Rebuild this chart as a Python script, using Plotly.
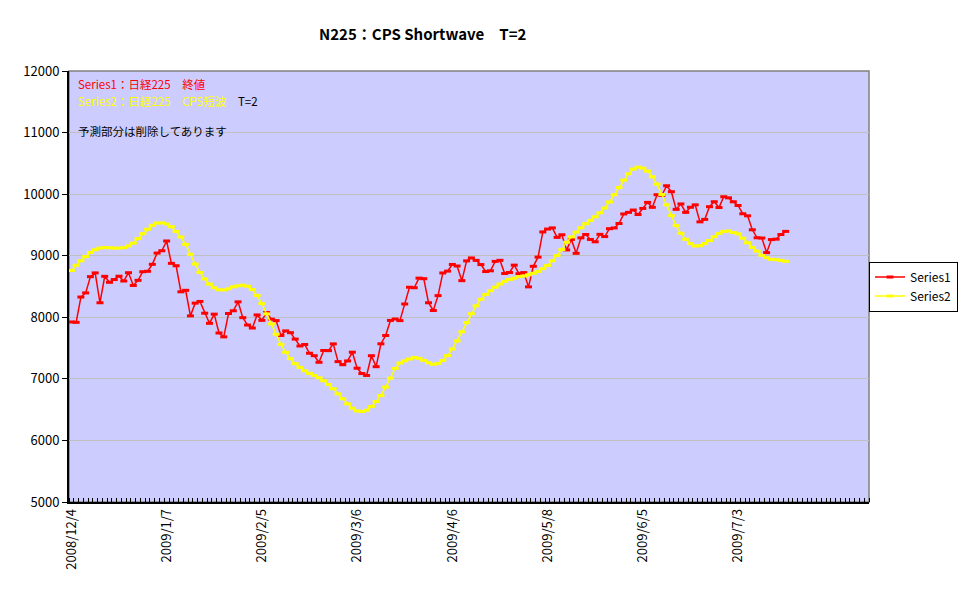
import plotly.graph_objects as go

# Trading dates (Tokyo) shown on the category axis
trade_dates = [
    "2008/12/4", "2008/12/5", "2008/12/8", "2008/12/9", "2008/12/10", "2008/12/11", "2008/12/12",
    "2008/12/15", "2008/12/16", "2008/12/17", "2008/12/18", "2008/12/19", "2008/12/22", "2008/12/24",
    "2008/12/25", "2008/12/26", "2008/12/29", "2008/12/30", "2009/1/5", "2009/1/6", "2009/1/7",
    "2009/1/8", "2009/1/9", "2009/1/13", "2009/1/14", "2009/1/15", "2009/1/16", "2009/1/19",
    "2009/1/20", "2009/1/21", "2009/1/22", "2009/1/23", "2009/1/26", "2009/1/27", "2009/1/28",
    "2009/1/29", "2009/1/30", "2009/2/2", "2009/2/3", "2009/2/4", "2009/2/5", "2009/2/6",
    "2009/2/9", "2009/2/10", "2009/2/12", "2009/2/13", "2009/2/16", "2009/2/17", "2009/2/18",
    "2009/2/19", "2009/2/20", "2009/2/23", "2009/2/24", "2009/2/25", "2009/2/26", "2009/2/27",
    "2009/3/2", "2009/3/3", "2009/3/4", "2009/3/5", "2009/3/6", "2009/3/9", "2009/3/10",
    "2009/3/11", "2009/3/12", "2009/3/13", "2009/3/16", "2009/3/17", "2009/3/18", "2009/3/19",
    "2009/3/23", "2009/3/24", "2009/3/25", "2009/3/26", "2009/3/27", "2009/3/30", "2009/3/31",
    "2009/4/1", "2009/4/2", "2009/4/3", "2009/4/6", "2009/4/7", "2009/4/8", "2009/4/9",
    "2009/4/10", "2009/4/13", "2009/4/14", "2009/4/15", "2009/4/16", "2009/4/17", "2009/4/20",
    "2009/4/21", "2009/4/22", "2009/4/23", "2009/4/24", "2009/4/27", "2009/4/28", "2009/4/30",
    "2009/5/1", "2009/5/7", "2009/5/8", "2009/5/11", "2009/5/12", "2009/5/13", "2009/5/14",
    "2009/5/15", "2009/5/18", "2009/5/19", "2009/5/20", "2009/5/21", "2009/5/22", "2009/5/25",
    "2009/5/26", "2009/5/27", "2009/5/28", "2009/5/29", "2009/6/1", "2009/6/2", "2009/6/3",
    "2009/6/4", "2009/6/5", "2009/6/8", "2009/6/9", "2009/6/10", "2009/6/11", "2009/6/12",
    "2009/6/15", "2009/6/16", "2009/6/17", "2009/6/18", "2009/6/19", "2009/6/22", "2009/6/23",
    "2009/6/24", "2009/6/25", "2009/6/26", "2009/6/29", "2009/6/30", "2009/7/1", "2009/7/2",
    "2009/7/3", "2009/7/6", "2009/7/7", "2009/7/8", "2009/7/9", "2009/7/10", "2009/7/13",
    "2009/7/14", "2009/7/15", "2009/7/16", "2009/7/17",
]

# Series1: Nikkei 225 close
series1 = [
    7924, 7918, 8329, 8396, 8660, 8721, 8236, 8665, 8568, 8613, 8667, 8589, 8724, 8517,
    8600, 8740, 8747, 8860, 9043, 9081, 9239, 8876, 8837, 8414, 8438, 8023, 8230, 8257,
    8066, 7902, 8051, 7745, 7682, 8061, 8106, 8251, 7994, 7874, 7826, 8038, 7950, 8077,
    7969, 7946, 7705, 7779, 7750, 7646, 7534, 7558, 7416, 7376, 7269, 7461, 7458, 7568,
    7280, 7230, 7291, 7433, 7173, 7086, 7055, 7376, 7198, 7569, 7704, 7949, 7972, 7946,
    8216, 8488, 8480, 8636, 8627, 8236, 8110, 8352, 8720, 8750, 8858, 8833, 8595, 8916,
    8964, 8924, 8856, 8743, 8755, 8908, 8925, 8711, 8727, 8847, 8708, 8726, 8494, 8828,
    8977, 9386, 9433, 9452, 9298, 9340, 9094, 9265, 9039, 9290, 9345, 9264, 9226, 9347,
    9311, 9439, 9451, 9523, 9678, 9704, 9742, 9669, 9768, 9866, 9786, 9991, 9981, 10136,
    10040, 9753, 9841, 9704, 9787, 9826, 9550, 9590, 9796, 9877, 9783, 9958, 9940, 9876,
    9816, 9681, 9648, 9421, 9291, 9287, 9050, 9262, 9269, 9344, 9395,
]

# Series2: CPS shortwave (T=2)
series2 = [
    8760, 8845, 8917, 8986, 9053, 9097, 9124, 9133, 9128, 9124, 9124, 9131, 9159, 9205,
    9278, 9359, 9430, 9493, 9530, 9533, 9515, 9470, 9394, 9304, 9184, 9022, 8864, 8728,
    8622, 8539, 8480, 8447, 8444, 8462, 8495, 8511, 8522, 8505, 8451, 8354, 8223, 8055,
    7892, 7724, 7561, 7431, 7327, 7246, 7186, 7132, 7089, 7056, 7018, 6969, 6909, 6839,
    6757, 6676, 6594, 6524, 6480, 6470, 6491, 6551, 6632, 6730, 6866, 7012, 7170, 7257,
    7292, 7322, 7348, 7334, 7300, 7262, 7237, 7252, 7300, 7378, 7485, 7616, 7764, 7914,
    8058, 8187, 8293, 8371, 8431, 8489, 8540, 8582, 8615, 8635, 8660, 8670, 8690, 8714,
    8745, 8789, 8842, 8917, 9003, 9100, 9219, 9305, 9383, 9454, 9519, 9573, 9632, 9697,
    9775, 9873, 9991, 10108, 10227, 10331, 10407, 10439, 10423, 10374, 10282, 10162, 9994, 9826,
    9652, 9489, 9364, 9266, 9196, 9158, 9162, 9198, 9246, 9308, 9362, 9395, 9402, 9378,
    9355, 9285, 9210, 9135, 9075, 9005, 8968, 8941, 8935, 8925, 8909,
]

label_step = 20
n_categories = 168
y_ticks = [5000, 6000, 7000, 8000, 9000, 10000, 11000, 12000]

title_text = "N225：CPS Shortwave　T=2"
note1 = "Series1：日経225　終値"
note2 = "Series2：日経225　CPS短波"
note2_tail = "　T=2"
note3 = "予測部分は削除してあります"

FONT = "Noto Sans CJK JP, Noto Sans, DejaVu Sans, sans-serif"

idx = list(range(len(trade_dates)))
tick_idx = idx[::label_step]
tick_txt = trade_dates[::label_step]

fig = go.Figure()
fig.add_trace(go.Scatter(
    x=idx, y=series1, name="Series1", mode="lines+markers",
    line=dict(color="#FF0000", width=1.5),
    marker=dict(symbol="line-ew", size=5, color="#FF0000",
                line=dict(color="#FF0000", width=3)),
))
fig.add_trace(go.Scatter(
    x=idx, y=series2, name="Series2", mode="lines+markers",
    line=dict(color="#FFFF00", width=1.5),
    marker=dict(symbol="line-ew", size=5, color="#FFFF00",
                line=dict(color="#FFFF00", width=3)),
))

# the page body has an 8px margin, so the figure is sized/margined to compensate
fig.update_layout(
    width=962, height=595,
    margin=dict(l=61, r=98, t=63, b=101),
    paper_bgcolor="white",
    plot_bgcolor="#CCCCFF",
    font=dict(family=FONT, size=13, color="black"),
    showlegend=True,
    legend=dict(
        x=1.0, xanchor="left", y=0.5, yanchor="middle",
        bgcolor="white", bordercolor="black", borderwidth=1,
        font=dict(family=FONT, size=12, color="black"),
        itemwidth=30, tracegroupgap=0,
    ),
    xaxis=dict(
        range=[-0.5, n_categories - 0.5],
        showgrid=False, zeroline=False,
        tickmode="array", tickvals=tick_idx, ticktext=tick_txt,
        tickangle=-90, ticks="", ticklen=0,
        tickfont=dict(family=FONT, size=13, color="black"),
        showline=True, linecolor="black", linewidth=1.5,
        minor=dict(tickmode="linear", tick0=-0.5, dtick=1, ticks="inside",
                   ticklen=4, tickcolor="black", tickwidth=1, showgrid=False),
    ),
    yaxis=dict(
        range=[5000, 12000],
        tickmode="array", tickvals=y_ticks, ticktext=[str(v) for v in y_ticks],
        showgrid=True, gridcolor="#C0C0C0", gridwidth=1, zeroline=False,
        ticks="outside", ticklen=5, tickcolor="black",
        tickfont=dict(family=FONT, size=13, color="black"),
        showline=True, linecolor="black", linewidth=2,
    ),
)

# plot-area frame (grey, as in the original)
fig.add_shape(type="rect", xref="paper", yref="paper", x0=0, y0=0, x1=1, y1=1,
              line=dict(color="#808080", width=1.5), layer="below")

fig.add_annotation(text="<b>" + title_text + "</b>", xref="paper", yref="paper",
                   x=0.442, y=1.088, xanchor="center", yanchor="middle", showarrow=False,
                   font=dict(family=FONT, size=15, color="black"))
fig.add_annotation(text=note1, xref="paper", yref="paper", x=0.009, y=0.969,
                   xanchor="left", yanchor="middle", showarrow=False,
                   font=dict(family=FONT, size=11.5, color="#FF0000"))
fig.add_annotation(text=note2 + '<span style="color:black">' + note2_tail + "</span>",
                   xref="paper", yref="paper", x=0.009, y=0.9315,
                   xanchor="left", yanchor="middle", showarrow=False,
                   font=dict(family=FONT, size=11.5, color="#FFFF00"))
fig.add_annotation(text=note3, xref="paper", yref="paper", x=0.009, y=0.8608,
                   xanchor="left", yanchor="middle", showarrow=False,
                   font=dict(family=FONT, size=11.5, color="black"))

fig.write_html("out.html")
